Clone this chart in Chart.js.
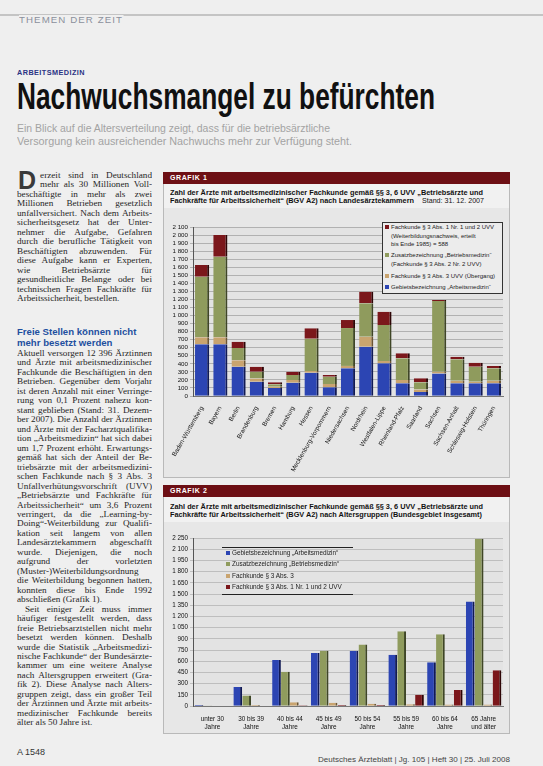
<!DOCTYPE html>
<html lang="de"><head><meta charset="utf-8">
<script src="https://cdn.jsdelivr.net/npm/chart.js"></script>
<style>
html,body{margin:0;padding:0;}
body{width:543px;height:766px;background:#efefef;position:relative;overflow:hidden;font-family:"Liberation Sans",Arial,sans-serif;color:#222;}
.a{position:absolute;}
.fit{display:inline-block;white-space:nowrap;transform-origin:0 0;}
.col{position:absolute;left:17px;width:135px;font-family:"Liberation Serif","Times New Roman",serif;font-size:9.2px;line-height:9.47px;text-align:justify;hyphens:manual;color:#262626;overflow:hidden;}
.col p{margin:0;}
.dc{float:left;font-family:"Liberation Sans",sans-serif;font-weight:bold;font-size:25px;line-height:17px;height:17px;margin:1px 4px 0 1px;color:#3a3a3a;}
.panel{position:absolute;left:163px;width:347px;background:#e7e7e7;border:1px solid #b9b9b9;box-sizing:border-box;}
.bar{position:absolute;left:163px;width:347px;height:12px;background:#6d0f14;}
.bar span{position:absolute;left:7px;top:2px;color:#fff;font-weight:bold;font-size:7px;letter-spacing:0.6px;}
.ttl{position:absolute;left:170px;font-weight:bold;font-size:7px;color:#111;}
.leg{position:absolute;font-size:6px;color:#222;line-height:8.5px;}
.leg .it{position:absolute;left:6px;white-space:nowrap;}
.leg .mk{position:absolute;left:-6px;top:2.2px;width:4px;height:4px;}
</style></head><body>

<!-- page header -->
<div class="a" style="left:0;top:14px;width:543px;height:2px;background:#c4c4c4;"></div>
<div class="a" style="left:19px;top:9px;"><span class="fit" data-w="104" style="font-size:9px;letter-spacing:1px;color:#8b909c;background:#efefef;">THEMEN DER ZEIT</span></div>
<div class="a" style="left:17px;top:61px;"><span class="fit" data-w="68" style="font-size:6.5px;font-weight:bold;letter-spacing:0.4px;color:#2a3384;">ARBEITSMEDIZIN</span></div>
<div class="a" style="left:17px;top:78px;line-height:37.5px;"><span class="fit" data-w="418" style="font-family:'Liberation Sans Narrow','Liberation Sans',sans-serif;font-weight:bold;font-size:37.5px;color:#111;">Nachwuchsmangel zu befürchten</span></div>
<div class="a" style="left:17px;top:121px;line-height:11px;"><span class="fit" data-w="313" style="font-size:10px;color:#a3a3a3;">Ein Blick auf die Altersverteilung zeigt, dass für die betriebsärztliche</span></div>
<div class="a" style="left:17px;top:134px;line-height:11px;"><span class="fit" data-w="335" style="font-size:10px;color:#a3a3a3;">Versorgung kein ausreichender Nachwuchs mehr zur Verfügung steht.</span></div>

<!-- text column -->
<div class="col" style="top:171px;height:145px;">
<p><span class="dc">D</span>erzeit sind in Deutschland mehr als 30&nbsp;Millionen Voll&shy;beschäftigte in mehr als zwei Millio&shy;nen Betrieben gesetzlich unfall&shy;ver&shy;sichert. Nach dem Arbeits&shy;sicher&shy;heits&shy;gesetz hat der Unter&shy;nehmer die Aufgabe, Gefahren durch die beruf&shy;liche Tätigkeit von Beschäf&shy;tigten abzuwenden. Für diese Aufgabe kann er Experten, wie Betriebs&shy;ärzte für gesundheitliche Belange oder bei technischen Fragen Fach&shy;kräfte für Arbeits&shy;sicherheit, bestellen.</p>
</div>
<div class="a" style="left:17px;top:327px;font-weight:bold;font-size:9.6px;line-height:10.5px;color:#1e4f9f;">Freie Stellen können nicht<br>mehr besetzt werden</div>
<div class="col" style="top:349px;height:379px;">
<p>Aktuell versorgen 12&nbsp;396 Ärztinnen und Ärzte mit arbeits&shy;medizinischer Fachkunde die Beschäftigten in den Betrieben. Gegenüber dem Vorjahr ist deren Anzahl mit einer Verringe&shy;rung von 0,1 Prozent nahezu kon&shy;stant geblieben (Stand: 31. Dezem&shy;ber 2007). Die Anzahl der Ärztinnen und Ärzte mit der Facharzt&shy;qualifika&shy;tion „Arbeits&shy;medizin“ hat sich dabei um 1,7 Prozent erhöht. Erwartungs&shy;gemäß hat sich der Anteil der Be&shy;triebs&shy;ärzte mit der arbeitsmedizini&shy;schen Fachkunde nach § 3 Abs. 3 Unfall&shy;verhütungs&shy;vorschrift (UVV) „Betriebs&shy;ärzte und Fachkräfte für Arbeits&shy;sicher&shy;heit“ um 3,6 Prozent verringert, da die „Learning-by-Doing“-Weiter&shy;bildung zur Qualifi&shy;kation seit langem von allen Landes&shy;ärzte&shy;kammern abgeschafft wurde. Diejenigen, die noch aufgrund der vorletzten (Muster-)Weiterbil&shy;dungs&shy;ordnung die Weiter&shy;bildung begonnen hatten, konnten diese bis Ende 1992 abschließen (Grafik 1).</p>
<p style="text-indent:8px;">Seit einiger Zeit muss immer häufiger festgestellt werden, dass freie Betriebs&shy;arzt&shy;stellen nicht mehr besetzt werden können. Deshalb wurde die Statistik „Arbeitsmedizi&shy;nische Fachkunde“ der Bundes&shy;ärzte&shy;kammer um eine weitere Analyse nach Alters&shy;gruppen erweitert (Gra&shy;fik 2). Diese Analyse nach Alters&shy;gruppen zeigt, dass ein großer Teil der Ärztinnen und Ärzte mit arbeits&shy;medizinischer Fachkunde bereits älter als 50 Jahre ist.</p>
</div>

<!-- GRAFIK 1 -->
<div class="panel" style="top:172px;height:306px;"></div>
<div class="bar" style="top:172px;"><span>GRAFIK 1</span></div>
<div class="a" style="left:164px;top:184px;width:345px;height:24px;background:#f1f1f1;"></div>
<div class="ttl" style="top:189px;"><span class="fit" data-w="313">Zahl der Ärzte mit arbeitsmedizinischer Fachkunde gemäß §§ 3, 6 UVV „Betriebsärzte und</span></div>
<div class="ttl" style="top:197px;"><span class="fit" data-w="244">Fachkräfte für Arbeitssicherheit“ (BGV A2) nach Landesärztekammern</span></div>
<div class="ttl" style="top:197px;left:422px;font-weight:normal;"><span class="fit" data-w="62">Stand: 31. 12. 2007</span></div>
<canvas id="c1" class="a" style="left:163px;top:210px;" width="347" height="266"></canvas>
<div id="leg1" class="leg" style="left:382px;top:222px;width:121px;height:72px;border:1px solid #333;background:#ececec;box-sizing:border-box;"></div>

<!-- GRAFIK 2 -->
<div class="panel" style="top:485px;height:249px;"></div>
<div class="bar" style="top:485px;"><span>GRAFIK 2</span></div>
<div class="a" style="left:164px;top:497px;width:345px;height:25px;background:#f1f1f1;"></div>
<div class="ttl" style="top:503px;"><span class="fit" data-w="313">Zahl der Ärzte mit arbeitsmedizinischer Fachkunde gemäß §§ 3, 6 UVV „Betriebsärzte und</span></div>
<div class="ttl" style="top:511px;"><span class="fit" data-w="312">Fachkräfte für Arbeitssicherheit“ (BGV A2) nach Altersgruppen (Bundesgebiet insgesamt)</span></div>
<canvas id="c2" class="a" style="left:163px;top:525px;" width="347" height="208"></canvas>
<div id="leg2" class="leg" style="left:222px;top:547px;width:131px;height:48px;border-top:1.5px solid #222;border-bottom:1.5px solid #222;box-sizing:border-box;font-size:6.4px;"></div>

<!-- footer -->
<div class="a" style="left:17px;top:747px;font-size:9px;color:#333;">A 1548</div>
<div class="a" style="left:318px;top:748px;"><span class="fit" data-w="192" style="font-size:8px;color:#444;">Deutsches Ärzteblatt | Jg. 105 | Heft 30 | 25. Juli 2008</span></div>

<script>
// ---------- data ----------
const states = ["Baden-Württemberg","Bayern","Berlin","Brandenburg","Bremen","Hamburg","Hessen","Mecklenburg-Vorpommern","Niedersachsen","Nordrhein","Westfalen-Lippe","Rheinland-Pfalz","Saarland","Sachsen","Sachsen-Anhalt","Schleswig-Holstein","Thüringen"];
const g1Arbeitsmedizin  = [642,642,365,178,100,166,290,110,344,612,406,158,50,280,158,158,158];
const g1FachkundeAbs3   = [87,87,80,41,15,33,20,40,30,124,30,40,30,20,30,20,30];
const g1Betriebsmedizin = [753,1001,150,83,30,62,400,90,470,415,446,270,90,880,270,186,156];
const g1FachkundeAbs1   = [145,270,80,62,25,41,131,21,100,145,165,62,50,13,30,50,29];
const g1Ticks = {min:0, max:2100, step:100};

const ageGroups = [["unter 30","Jahre"],["30 bis 39","Jahre"],["40 bis 44","Jahre"],["45 bis 49","Jahre"],["50 bis 54","Jahre"],["55 bis 59","Jahre"],["60 bis 64","Jahre"],["65 Jahre","und älter"]];
const g2Arbeitsmedizin  = [12,255,616,710,735,685,585,1400];
const g2Betriebsmedizin = [8,140,460,740,825,1000,960,2240];
const g2FachkundeAbs3   = [3,15,50,45,30,25,20,20];
const g2FachkundeAbs1   = [0,5,10,15,15,150,215,480];
const g2Ticks = {min:0, max:2250, step:150};

const legend1 = [
  ["Fachkunde § 3 Abs. 1 Nr. 1 und 2 UVV","(Weiterbildungsnachweis, erteilt","bis Ende 1985) = 588"],
  ["Zusatzbezeichnung „Betriebsmedizin“","(Fachkunde § 3 Abs. 2 Nr. 2 UVV)"],
  ["Fachkunde § 3 Abs. 3 UVV (Übergang)"],
  ["Gebietsbezeichnung „Arbeitsmedizin“"]
];
const legend2 = [
  "Gebietsbezeichnung „Arbeitsmedizin“",
  "Zusatzbezeichnung „Betriebsmedizin“",
  "Fachkunde § 3 Abs. 3",
  "Fachkunde § 3 Abs. 1 Nr. 1 und 2 UVV"
];

// ---------- styles ----------
const COL = {blue:'#2c45b3', olive:'#8f9b5d', tan:'#c9a46f', red:'#7b171b'};
const SIDE = {blue:'#111a55', olive:'#3f4626', tan:'#6d5533', red:'#2e0506'};

function fmt(v){ v=Math.round(v); return v>=1000 ? Math.floor(v/1000)+' '+String(v%1000).padStart(3,'0') : String(v); }

const plotBg = {id:'plotBg', beforeDraw(chart,args,opts){const {ctx,chartArea:a}=chart;ctx.save();ctx.fillStyle=opts.color;ctx.fillRect(a.left,a.top,a.right-a.left,a.bottom-a.top);ctx.restore();}};

function ds(label,data,key,extra){
  return Object.assign({label, data, backgroundColor:COL[key], borderColor:SIDE[key],
    borderWidth:{top:0,left:0,bottom:0,right:2}, borderSkipped:false}, extra||{});
}

Chart.defaults.font.family = '"Liberation Sans", Arial, sans-serif';
Chart.defaults.color = '#111';

new Chart(document.getElementById('c1'), {
  type:'bar',
  data:{labels:states, datasets:[
    ds(legend1[3].join(' '), g1Arbeitsmedizin,'blue'),
    ds(legend1[2].join(' '), g1FachkundeAbs3,'tan'),
    ds(legend1[1].join(' '), g1Betriebsmedizin,'olive'),
    ds(legend1[0].join(' '), g1FachkundeAbs1,'red')
  ]},
  options:{
    responsive:false, animation:false,
    layout:{padding:{top:17,right:7,left:2,bottom:2}},
    datasets:{bar:{categoryPercentage:0.82, barPercentage:0.95}},
    plugins:{legend:{display:false}, tooltip:{enabled:false}, plotBg:{color:'#e3e3e3'}},
    scales:{
      x:{stacked:true, grid:{display:false}, border:{color:'#777'},
         ticks:{minRotation:60, maxRotation:60, autoSkip:false, font:{size:6.3}, padding:1},
         afterFit(s){s.height=78;}},
      y:{stacked:true, min:g1Ticks.min, max:g1Ticks.max, border:{color:'#555'},
         grid:{color:'#8e8e8e', lineWidth:0.6, tickLength:3},
         ticks:{stepSize:g1Ticks.step, autoSkip:false, font:{size:6.2}, padding:2, callback:fmt},
         afterFit(s){s.width=28;}}
    }
  },
  plugins:[plotBg]
});

new Chart(document.getElementById('c2'), {
  type:'bar',
  data:{labels:ageGroups, datasets:[
    ds(legend2[0], g2Arbeitsmedizin,'blue'),
    ds(legend2[1], g2Betriebsmedizin,'olive'),
    ds(legend2[2], g2FachkundeAbs3,'tan'),
    ds(legend2[3], g2FachkundeAbs1,'red')
  ]},
  options:{
    responsive:false, animation:false,
    layout:{padding:{top:13,right:7,left:2,bottom:2}},
    datasets:{bar:{categoryPercentage:0.92, barPercentage:0.98}},
    plugins:{legend:{display:false}, tooltip:{enabled:false}, plotBg:{color:'#e3e3e3'}},
    scales:{
      x:{grid:{display:false}, border:{color:'#777'},
         ticks:{font:{size:6.4, lineHeight:1.15}, padding:2, autoSkip:false, maxRotation:0},
         afterFit(s){s.height=25;}},
      y:{min:g2Ticks.min, max:g2Ticks.max, border:{color:'#555'},
         grid:{color:'#a5a5a5', lineWidth:0.6, tickLength:3},
         ticks:{stepSize:g2Ticks.step, autoSkip:false, font:{size:6.3}, padding:2, callback:fmt},
         afterFit(s){s.width=28;}}
    }
  },
  plugins:[plotBg]
});

// ---------- HTML legends ----------
const l1 = document.getElementById('leg1');
const l1Tops = [0,28,49,60], l1Cols = ['red','olive','tan','blue'];
legend1.forEach((lines,i)=>{
  const d=document.createElement('div'); d.className='it'; d.style.top=l1Tops[i]+'px'; d.style.left='8px';
  d.innerHTML='<div class="mk" style="background:'+COL[l1Cols[i]]+'"></div>'+lines.join('<br>');
  l1.appendChild(d);
});
const l2 = document.getElementById('leg2');
const l2Tops = [1,12,24,35], l2Cols=['blue','olive','tan','red'];
legend2.forEach((t,i)=>{
  const d=document.createElement('div'); d.className='it'; d.style.top=l2Tops[i]+'px'; d.style.left='10px';
  d.innerHTML='<div class="mk" style="background:'+COL[l2Cols[i]]+'"></div>'+t;
  l2.appendChild(d);
});

// ---------- fit text widths ----------
document.querySelectorAll('.fit').forEach(el=>{
  const w=+el.dataset.w; const a=el.getBoundingClientRect().width;
  if(a>0) el.style.transform='scaleX('+(w/a)+')';
});
</script>
</body></html>
